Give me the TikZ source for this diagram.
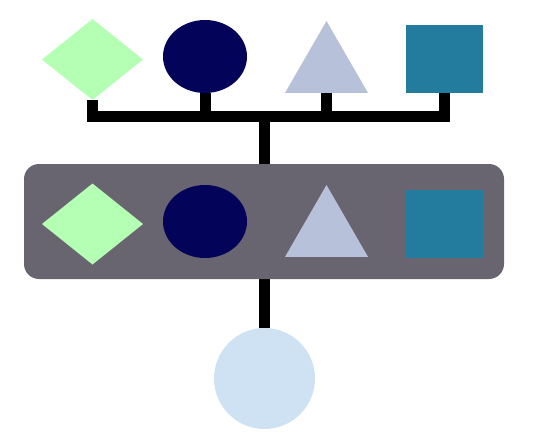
\documentclass[tikz,border=0pt]{standalone}
\usetikzlibrary{shapes.geometric,backgrounds}
\definecolor{cgreen}{RGB}{181,255,181}
\definecolor{cnavy}{RGB}{3,3,90}
\definecolor{ctri}{RGB}{184,193,218}
\definecolor{csq}{RGB}{35,123,158}
\definecolor{cbox}{RGB}{104,101,112}
\definecolor{ccirc}{RGB}{207,226,243}
\tikzset{
  shp/.style={inner sep=0pt, outer sep=0pt, draw=none},
  dia/.style={shp, diamond, fill=cgreen, aspect=1.247, minimum width=101pt, minimum height=81pt},
  ell/.style={shp, ellipse, fill=cnavy, minimum width=84pt, minimum height=73pt},
  tri/.style={shp, regular polygon, regular polygon sides=3, fill=ctri, minimum size=95.8pt},
  sq/.style={shp, rectangle, fill=csq, minimum width=77pt, minimum height=68pt},
  grp/.style={shp, rectangle, rounded corners=15pt, fill=cbox, minimum width=480pt, minimum height=115pt},
  rnd/.style={shp, circle, fill=ccirc, minimum size=101pt},
  conn/.style={draw=black, line width=11pt, line join=miter, line cap=butt}
}
\begin{document}
\begin{tikzpicture}[x=1pt,y=-1pt]
\useasboundingbox (0,0) rectangle (550,439);
% top row
\node[dia] (td) at (92.5,59.5) {};
\node[ell] (te) at (205,56.5) {};
\node[tri] (tt) at (326.5,68.9) {};
\node[sq]  (ts) at (444.5,59) {};
\coordinate (hub) at (264.5,116);
% group box
\node[grp] (box) at (264,221.5) {};
\node[dia] (bd) at (92.5,224) {};
\node[ell] (be) at (205,221.5) {};
\node[tri] (bt) at (326.5,232.9) {};
\node[sq]  (bs) at (444.5,224) {};
% bottom circle
\node[rnd] (circ) at (264.5,378.5) {};
\begin{scope}[on background layer]
\draw[conn] (td.south) -- (td.south |- hub) -- (ts.south |- hub) -- (ts.south);
\draw[conn] (te.south) -- (te.south |- hub);
\draw[conn] (tt.south) -- (tt.south |- hub);
\draw[conn] (hub) -- (hub |- box.north);
\draw[conn] (hub |- box.south) -- (circ.north);
\end{scope}
\end{tikzpicture}
\end{document}
